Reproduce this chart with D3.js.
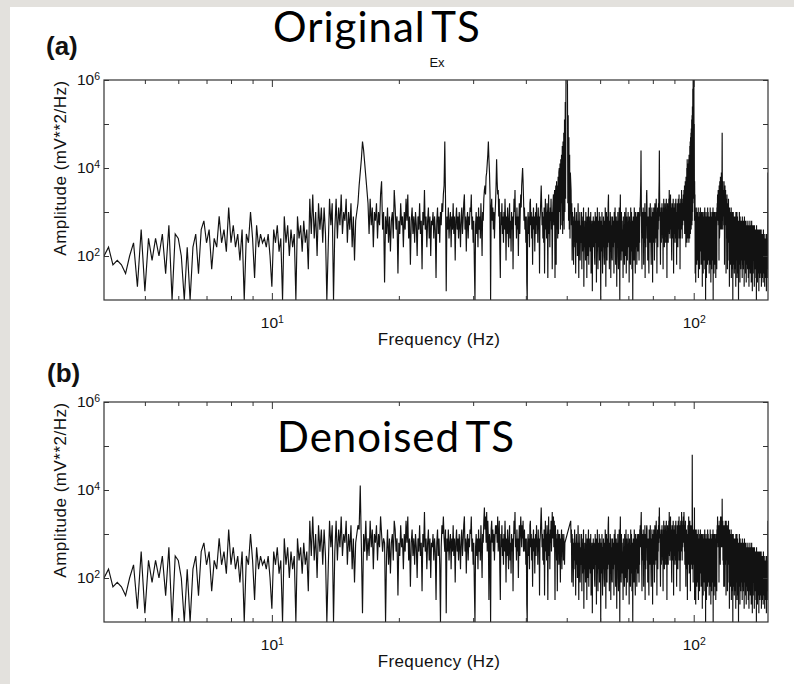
<!DOCTYPE html>
<html>
<head>
<meta charset="utf-8">
<script src="https://cdn.jsdelivr.net/npm/d3@7"></script>
<style>
    body { margin: 0; background: #fff; }
    svg { display: block; }
</style>
</head>
<body>
<div id="chart"></div>
<script>
// spectra sampled every 0.1 Hz from 4 Hz up to 150 Hz
const freqStart = 4;
const freqStep = 0.1;
const freqDomain = [4, 150];
const ampDomain = [1e1, 1e6];
const freqTickLabels = [10, 100];
const ampTicks = [1e2, 1e3, 1e4, 1e5, 1e6];
const ampTickLabels = [1e2, 1e4, 1e6];
const panelLetters = ['(a)', '(b)'];
const slideTitles = ['Original TS', 'Denoised TS'];
const componentName = 'Ex';
const yLabel = 'Amplitude (mV**2/Hz)';
const xLabel = 'Frequency (Hz)';

// log10 of the amplitude, one character per sample, steps of 0.1:
// '0' = 1.0, 'A' = 2.0, 'K' = 3.0, 'U' = 4.0, 'e' = 5.0, 'o' = 6.0
// '.' = sample cut out (notch at 50 Hz in the denoised series)
const levelCodes = '0123456789ABCDEFGHIJKLMNOPQRSTUVWXYZabcdefghijklmnopqrstuvwxyz';

// one row = 10 Hz (4-13.9, 14-23.9, ...), groups of 1 Hz
const ampOriginal = [
    'AC8986AD3G 2E9EAF6H0F EA0C0CF6GI DG7ECJDGBL DHCF9G0FDK E5HCFDECFA 3GDHBE0JDH AGCF0JEHBI DG7NFOEKAM GLDLF0CNHM',
    '0GNELHOFKI NDKGMCJ9IK MQTWaYVSPM FNHLCKIMEK HORGK4JFLD JBIKEPLGJ6 IFMHJCKGNI OEJ8ILFJDK HAJGMFI7KH PGJCILEJAI',
    'HKEJG5ILFJ DKHMKOQaN2 JGLEIKCJGM FJ9ILGJEKH CJLFIMOGJB IKEJHLKOGJ DI80HKFJCL GJEMHAKINP QOSTVXaWTO 0LNILGKEJM',
    'QWROPJNC5K HMFJDKGNI9 JFLHCJMEIB KGJ7INKPHJ ELGJAIMFKO LQSURNILGJ DJ40IKFJCM NHKEJ8ILGJ BIKFMHJDLG J6IKNQMHKE',
    'JDL6INGKEM H5JOFKCLIN GK7JMOHNP5 MQ8RGQESFT UKVGWMXHZF aIcGfKjNqu wsoMgIbGXE TRPHM9KFJ8 IELCI6HKDI AHMF5IEK9G',
    'HDK7IBJEL3 GCIF9KDH5J EAIL8HCJFB K6GDI2HEJC IFA8KGDJ4H BLE7IHCK9F JD0GIBKE6H CJFA8IDLG3 HKE9JCIMOD F7IBKG5JDH',
    'A9JECIG6KD HLF8BJE3IG DKA7IFLC0J OEH9KDIBFG 5JCHE8KGAI DL6FJB9HEK CIG4JDHA8L FBKE7IC0HJ EG9LDIA6KF HCJ8EKGBID',
    'KF9IDLJMOR YPIC7KGJEL H8JDKFM5IG CKHOPLEJ9I FJA6LGKDIM EHB8JFLCK4 IGKDLHJ9FM DKIELNHJ6K FLCJGMIORY PJKE8IGLDJ',
    'IMGKEJ7LHN FKCJIMGLDK HNEJ5KGMIL DKHNJPFLIE KOIMGLC9JH MEKGNI6JLF KHMDJGLNEI J8KFMHLCJN GLIOEKHM7J ELNGKIPJLE',
    'JMHNKOILPN KQFPGRHOCS ESFUDWGQET HVFWDXGVEZ IaFbHcGdJf HgIiKmNsPz uoMeIRKO6J E4IBLGD8JF KC9IEL5HDJ FA7KGIDLBH',
    'I8JDKGBI3H EKC6JFIA9K GDL7HEJ0IC KF5JBIGD8L H9KEJCAI6G DJF8LHBK4I CIG7JEKA9H FL0IDJG6KC JE8HKBIF5J GDKA7LHMJO',
    'KNIPLMHO9Q NEFRHQKSGP HRJTGSIUcQ IRGPHNKOJM RJM8OLQHNK PIL6NJMEKO HL7JMGKDIN FK9JH3LEIC JG8KDIBL5H EJCI7KFA0J',
    'GKD8IFJB6H EIA7JCHF3K DHG9IBK5GE JC6HEIA0GD IF8KCHE4JB GDI7HA9FIC HEB5JDGA8I CG7IEHB3FJ EA9GCIF6HD IC4FHDA8GB',
    'FH7DIBE5GA HC3FDGA7EI BG6EHC9FA4 GDI8CFB2HE AF6GDHA9EC FB3HEGC7DA E8GC5FDA0H CF7DGB4EAG D9FA6EC2GB EC8FA5DG7C',
    'A6EC9GB3DF C7AE5DB8FA E4CG9AD6BE 8DA3FC7EB5 DA9CE6B2FA C8EA5DB7AI T'
];

const ampDenoised = [
    'AC8986AD3G 2E9EAF6H0F EA0C0CF6GI DG7ECJDGBL DHCF9G0FDK E5HCFDECFA 3GDHBE0JDH AGCF0JEHBI DG7NFOEKAM GLDLF0CNHM',
    '0GNELHOFKI NDKGMCJ9IK MLVH2KGNEJ FNHLCKIMEK HOKGJI0FLD JBIKENLGJ6 IFMHJCKGNI OEJ8ILFJDK HAJGMFI7KH PGJCILEJAI',
    'HKEJG5ILFJ D0HMKOJGL2 JGLEIKCJGM FJ9ILGJEKH CJLFIMOGJB IKEJHLKOGJ DI80HKFJCL GJEMHAKINQ LOIPGNJ5KI 0LNILGKEJM',
    'KMIOGJNC5K HMFJDKGNI9 JFLHCJMEIB KGJ7INKPHJ ELGJAIMFKO LHMJNGILGJ DJ40IKFJCM NHKEJ8ILGJ BIKFMHJDLG J6IKNQMHKE',
    'JDL6INGKEM H5JOFKCLIN GKPJMOHNI5 MIKEJ7LGKD IKF9JHLCKG JEKHDI.... .......... .NIL9KFJ8E IELCI6HKDI AHMF5IEK9G',
    'HDK7IBJEL3 GCIF9KDH5J EAIL8HCJFB K6GDI2HEJC IFA8KGDJ4H BLE7IHCK9F JD0GIBKE6H CJFA8IDLG3 HKE9JCIMOD F7IBKG5JDH',
    'A9JECIG6KD HLF8BJE3IG DKA7IFLC0J OEH9KDIBFG 5JCHE8KGAI DL6FJB9HEK CIG4JDHA8L FBKE7IC0HJ EG9LDIA6KF HCJ8EKGBID',
    'KF9IDLJMHK NPIC7KGJEL H8JDKFM5IG CKHLMLEJ9I FJA6LGKDIM EHB8JFLCK4 IGKDLHJ9FM DKIELNHJ6K FLCJGMIOKQ MJKE8IGLDJ',
    'IMGKEJ7LHN FKCJIMGLDK HNEJ5KGMIL DKHNJPFLIE KOIMGLC9JH MEKGNI6JLF KHMDJGLNEI J8KFMHLCJN GLIOEKHM7J ELNGKIPJLE',
    'JMHNKOILPN KGMDLINE8J HLEKCJ5IGM DKIOFJBLHN GJ7KEMIDLH JCcNKFI9LE KGIDQ5JBLF E4IBLGD8JF KC9IEL5HDJ FA7KGIDLBH',
    'I8JDKGBI3H EKC6JFIA9K GDL7HEJ0IC KF5JBIGD8L H9KEJCAI6G DJF8LHBK4I CIG7JEKA9H FL0IDJG6KC JE8HKBIF5J GDKA7LHMJO',
    'KNILHMKJ9M IMGKNJDLOH LNIMKOHJSL KHNEJLDM8I GJM8KLDHNK EIL6NJMEKG HL7JMGKDIN FK9JH3LEIC JG8KDIBL5H EJCI7KFA0J',
    'GKD8IFJB6H EIA7JCHF3K DHG9IBK5GE JC6HEIA0GD IF8KCHE4JB GDI7HA9FIC HEB5JDGA8I CG7IEHB3FJ EA9GCIF6HD IC4FHDA8GB',
    'FH7DIBE5GA HC3FDGA7EI BG6EHC9FA4 GDI8CFB2HE AF6GDHA9EC FB3HEGC7DA E8GC5FDA0H CF7DGB4EAG D9FA6EC2GB EC8FA5DG7C',
    'A6EC9GB3DF C7AE5DB8FA E4CG9AD6BE 8DA3FC7EB5 DA9CE6B2FA C8EA5DB7AI N'
];

//page dimensions
const width = 794;
const height = 684;
const plotLeft = 104;
const plotRight = 768;
const matlabFont = "'Liberation Sans', Arial, sans-serif";
const slideFont = "Lato, 'Open Sans', sans-serif";

function decodeSpectrum(myRows) {
    let myCodes = myRows.join('').replace(/\s/g, '');
    let myPoints = [];
    for (let i = 0; i < myCodes.length; i++) {
        if (myCodes[i] === '.') continue; //removed sample
        myPoints.push({
            freq: freqStart + i * freqStep,
            amp: Math.pow(10, 1 + levelCodes.indexOf(myCodes[i]) / 10)
        });
    }
    return myPoints;
}

let mySVG = d3.select('#chart')
    .append('svg')
        .attr('width', width)
        .attr('height', height)
        .attr('viewBox', [0, 0, width, height]);

// slide background with grey edge
mySVG.append('rect').attr('width', width).attr('height', height).attr('fill', '#ffffff');
mySVG.append('rect').attr('width', 10).attr('height', height).attr('fill', '#e3e1dd');
mySVG.append('rect').attr('width', width).attr('height', 7).attr('fill', '#e3e1dd');

function isDecade(d) {
    return Math.abs(Math.log10(d) - Math.round(Math.log10(d))) < 1e-9;
}

function superscriptLabel(sel, labelled) {
    sel.selectAll('.tick text').each(function(d) {
        let t = d3.select(this).text(null);
        if (!labelled.includes(d)) return;
        t.append('tspan').text('10');
        t.append('tspan')
            .attr('dy', '-0.5em')
            .attr('font-size', '10.5px')
            .text(Math.round(Math.log10(d)));
    });
}

function styleAxis(g) {
    g.select('.domain').remove();
    g.selectAll('.tick line').attr('stroke', '#333').attr('stroke-width', 1);
    g.attr('font-family', matlabFont).attr('font-size', 15.5);
    g.selectAll('.tick text').attr('fill', '#111');
}

function drawPanel(myRows, top, bottom, idx) {
    let myData = decodeSpectrum(myRows);

    let x = d3.scaleLog()
        .domain(freqDomain)
        .range([plotLeft, plotRight]);

    let y = d3.scaleLog()
        .domain(ampDomain)
        .range([bottom, top]);

    let myPanel = mySVG.append('g');

    let clipId = 'plotclip' + idx;
    myPanel.append('clipPath')
        .attr('id', clipId)
        .append('rect')
            .attr('x', plotLeft)
            .attr('y', top)
            .attr('width', plotRight - plotLeft)
            .attr('height', bottom - top);

    //spectrum
    myPanel.append('path')
        .datum(myData)
        .attr('clip-path', `url(#${clipId})`)
        .attr('d', d3.line()
            .x(d => x(d.freq))
            .y(d => y(d.amp)))
        .style('fill', 'none')
        .style('stroke', '#121212')
        .style('stroke-width', 1.15);

    //frequency ticks
    let minorFreq = x.ticks().filter(d => d > freqDomain[0] && d < freqDomain[1] && !isDecade(d));

    myPanel.append('g')
        .attr('transform', `translate(0, ${bottom})`)
        .call(d3.axisBottom(x).tickValues(minorFreq).tickSize(-4).tickFormat(''))
        .call(styleAxis);

    myPanel.append('g')
        .attr('transform', `translate(0, ${top})`)
        .call(d3.axisTop(x).tickValues(minorFreq).tickSize(-4).tickFormat(''))
        .call(styleAxis);

    myPanel.append('g')
        .attr('transform', `translate(0, ${top})`)
        .call(d3.axisTop(x).tickValues(freqTickLabels).tickSize(-7).tickFormat(''))
        .call(styleAxis);

    myPanel.append('g')
        .attr('transform', `translate(0, ${bottom})`)
        .call(d3.axisBottom(x).tickValues(freqTickLabels).tickSize(-7).tickPadding(17))
        .call(styleAxis)
        .call(g => superscriptLabel(g, freqTickLabels));

    //amplitude ticks
    myPanel.append('g')
        .attr('transform', `translate(${plotLeft}, 0)`)
        .call(d3.axisLeft(y).tickValues(ampTicks).tickSize(-5).tickPadding(4))
        .call(styleAxis)
        .call(g => superscriptLabel(g, ampTickLabels));

    myPanel.append('g')
        .attr('transform', `translate(${plotRight}, 0)`)
        .call(d3.axisRight(y).tickValues(ampTicks).tickSize(-5).tickFormat(''))
        .call(styleAxis);

    //frame
    myPanel.append('rect')
        .attr('x', plotLeft)
        .attr('y', top)
        .attr('width', plotRight - plotLeft)
        .attr('height', bottom - top)
        .style('fill', 'none')
        .style('stroke', '#333')
        .style('stroke-width', 1.2);

    //axis labels
    myPanel.append('text')
        .attr('transform', `translate(66, ${top + 88}) rotate(-90)`)
        .attr('text-anchor', 'middle')
        .attr('font-family', matlabFont)
        .attr('font-size', 17)
        .attr('letter-spacing', 0.5)
        .attr('fill', '#111')
        .text(yLabel);

    myPanel.append('text')
        .attr('x', 439)
        .attr('y', bottom + 45)
        .attr('text-anchor', 'middle')
        .attr('font-family', matlabFont)
        .attr('font-size', 17)
        .attr('letter-spacing', 0.4)
        .attr('fill', '#111')
        .text(xLabel);

    return myPanel;
}

let panelA = drawPanel(ampOriginal, 80, 300, 0);
let panelB = drawPanel(ampDenoised, 402, 622, 1);

// panel letters
[[46, 55], [47, 382]].forEach((p, i) => {
    mySVG.append('text')
        .attr('x', p[0])
        .attr('y', p[1])
        .attr('font-family', matlabFont)
        .attr('font-weight', 'bold')
        .attr('font-size', 26)
        .attr('fill', '#111')
        .text(panelLetters[i]);
});

// figure title
mySVG.append('text')
    .attr('x', 437)
    .attr('y', 67)
    .attr('text-anchor', 'middle')
    .attr('font-family', matlabFont)
    .attr('font-size', 13)
    .attr('fill', '#111')
    .text(componentName);

// slide annotations
[[273, 42], [277, 452]].forEach((p, i) => {
    mySVG.append('text')
        .attr('x', p[0])
        .attr('y', p[1])
        .attr('font-family', slideFont)
        .attr('font-size', 42)
        .attr('letter-spacing', 1)
        .attr('word-spacing', -5)
        .attr('fill', '#000')
        .text(slideTitles[i]);
});
</script>
</body>
</html>
